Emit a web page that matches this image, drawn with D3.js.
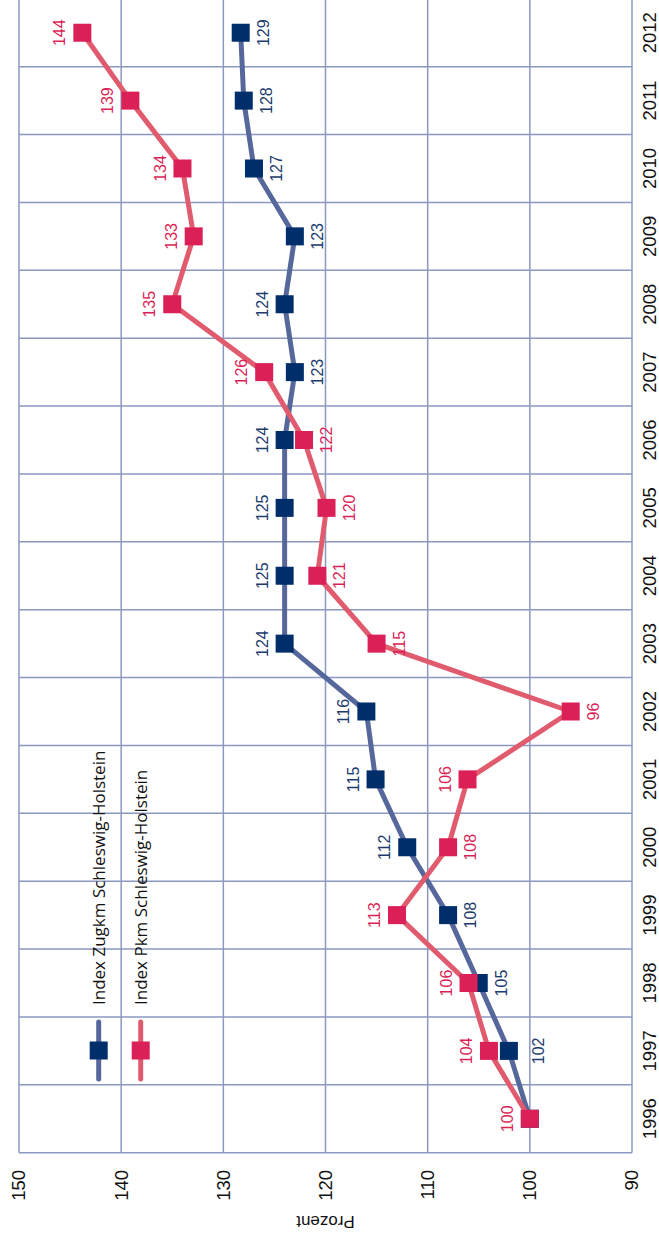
<!DOCTYPE html>
<html>
<head>
<meta charset="utf-8">
<script src="https://cdn.jsdelivr.net/npm/d3@7"></script>
<style>
  body { margin: 0; background: #fff; }
  svg { display: block; }
</style>
</head>
<body>
<div id="chart"></div>
<script>
const widthPage = 659;
const heightPage = 1245;

// data
const years = ["1996","1997","1998","1999","2000","2001","2002","2003","2004","2005","2006","2007","2008","2009","2010","2011","2012"];
const zugkm = [100, 102.05, 105, 108, 112, 115.1, 116, 124, 124, 124, 124, 123, 124, 123, 127, 128, 128.3];
const pkm = [100, 104, 106, 113, 108, 106.1, 96, 115, 120.8, 119.9, 122.1, 126, 135, 132.9, 134, 139.1, 143.8];
const zugkmLabels = [null, "102", "105", "108", "112", "115", "116", "124", "125", "125", "124", "123", "124", "123", "127", "128", "129"];
const pkmLabels = ["100", "104", "106", "113", "108", "106", "96", "115", "121", "120", "122", "126", "135", "133", "134", "139", "144"];
// label above (-1) or below (+1) the point
const zugkmSide = [0, 1, 1, 1, -1, -1, -1, -1, -1, -1, -1, 1, -1, 1, 1, 1, 1];
const pkmSide = [-1, -1, -1, -1, 1, -1, 1, 1, 1, 1, 1, -1, -1, -1, -1, -1, -1];
const valueTicks = [90, 100, 110, 120, 130, 140, 150];
const seriesNames = ["Index Zugkm Schleswig-Holstein", "Index Pkm Schleswig-Holstein"];
const axisTitle = "Prozent";

const gridColor = "#8b98c0";
const blueLine = "#56679b";
const blueMark = "#002e6b";
const blueText = "#1c3b6e";
const redLine = "#e15b6f";
const redMark = "#db1f57";

drawChart();

function drawChart() {
    const svg = d3.select("#chart").append("svg")
        .attr("width", widthPage)
        .attr("height", heightPage);

    // chart is drawn normally, then turned a quarter to the left
    const g = svg.append("g")
        .attr("transform", `translate(0, ${heightPage}) rotate(-90)`);

    const scaleX = d3.scaleBand()
        .domain(years)
        .range([92.3, 1246.2])
        .padding(0);
    const scaleY = d3.scaleLinear()
        .domain([90, 150])
        .range([632, 19]);
    const cx = year => scaleX(year) + scaleX.bandwidth() / 2;

    //grid
    const grid = g.append("g")
        .attr("stroke", gridColor)
        .attr("stroke-width", 1.5);
    const xEdges = years.map(y => scaleX(y)).concat([scaleX.range()[1]]);
    grid.selectAll("line.v")
        .data(xEdges)
        .enter()
        .append("line")
        .attr("x1", d => d).attr("x2", d => d)
        .attr("y1", scaleY(150)).attr("y2", scaleY(90));
    grid.selectAll("line.h")
        .data(valueTicks)
        .enter()
        .append("line")
        .attr("x1", scaleX.range()[0]).attr("x2", scaleX.range()[1])
        .attr("y1", d => scaleY(d)).attr("y2", d => scaleY(d));

    //axes
    const axisY = d3.axisLeft(scaleY).tickValues(valueTicks).tickSize(0).tickPadding(17.3);
    const gy = g.append("g")
        .attr("transform", `translate(${scaleX.range()[0]}, 0)`)
        .call(axisY);
    const axisX = d3.axisBottom(scaleX).tickSize(0).tickPadding(11);
    const gx = g.append("g")
        .attr("transform", `translate(0, ${scaleY(90)})`)
        .call(axisX);
    [gx, gy].forEach(a => {
        a.select(".domain").remove();
        a.selectAll("text")
            .style("font-family", "Liberation Sans, Arial, sans-serif")
            .style("font-size", "18.5px")
            .attr("fill", "#111");
    });

    g.append("text")
        .attr("transform", `translate(23, ${(scaleY(90) + scaleY(150)) / 2}) rotate(-90)`)
        .attr("text-anchor", "middle")
        .attr("dy", "0.35em")
        .style("font-family", "Liberation Sans, Arial, sans-serif")
        .style("font-size", "17px")
        .attr("fill", "#111")
        .text(axisTitle);

    const line = d3.line()
        .x(d => cx(d.year))
        .y(d => scaleY(d.value));

    drawSeries(g, zugkm, zugkmLabels, zugkmSide, blueLine, blueMark, blueText);
    drawSeries(g, pkm, pkmLabels, pkmSide, redLine, redMark, redMark);

    function drawSeries(parent, values, labels, sides, lineColor, markColor, textColor) {
        const points = values.map((v, i) => ({ year: years[i], value: v, label: labels[i], side: sides[i] }));
        const s = parent.append("g");
        s.append("path")
            .attr("d", line(points))
            .attr("fill", "none")
            .attr("stroke", lineColor)
            .attr("stroke-width", 5)
            .attr("stroke-linejoin", "round");
        s.selectAll("rect")
            .data(points)
            .enter()
            .append("rect")
            .attr("x", d => cx(d.year) - 9)
            .attr("y", d => scaleY(d.value) - 9)
            .attr("width", 18)
            .attr("height", 18)
            .attr("fill", markColor);
        s.selectAll("text")
            .data(points.filter(d => d.label !== null))
            .enter()
            .append("text")
            .attr("x", d => cx(d.year))
            .attr("y", d => {
                // first point of the lower series sits a bit further off its line
                const off = (d.year === "1997" && d.side > 0) ? 30 : 22.5;
                return scaleY(d.value) + d.side * off;
            })
            .attr("dy", "0.35em")
            .attr("text-anchor", "middle")
            .style("font-family", "Liberation Sans, Arial, sans-serif")
            .style("font-size", "16px")
            .attr("fill", textColor)
            .text(d => d.label);
    }

    //legend
    const legend = g.append("g");
    const legendColors = [[blueLine, blueMark], [redLine, redMark]];
    seriesNames.forEach((name, i) => {
        const ly = 98.7 + i * 42;
        legend.append("line")
            .attr("x1", 166).attr("x2", 223)
            .attr("y1", ly).attr("y2", ly)
            .attr("stroke", legendColors[i][0])
            .attr("stroke-width", 5)
            .attr("stroke-linecap", "round");
        legend.append("rect")
            .attr("x", 194.5 - 9).attr("y", ly - 9)
            .attr("width", 18).attr("height", 18)
            .attr("fill", legendColors[i][1]);
        legend.append("text")
            .attr("x", 240).attr("y", ly)
            .attr("dy", "0.35em")
            .style("font-family", "Open Sans, sans-serif")
            .style("font-size", "17px")
            .attr("fill", "#111")
            .text(name);
    });
}
</script>
</body>
</html>
